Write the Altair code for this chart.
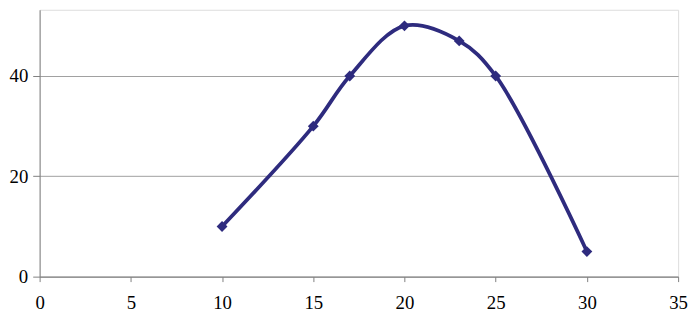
import altair as alt
import pandas as pd

x_vals = [10, 15, 17, 20, 23, 25, 30]
y_vals = [10, 30, 40, 50, 47, 40, 5]
x_ticks = [0, 5, 10, 15, 20, 25, 30, 35]
y_ticks = [0, 20, 40]

df = pd.DataFrame({"x": x_vals, "y": y_vals})

color = "#2E2B7E"
font = "Times New Roman, Liberation Serif, serif"

xenc = alt.X("x:Q", scale=alt.Scale(domain=[0, 35], nice=False, zero=False),
             axis=alt.Axis(values=x_ticks, title=None, grid=False, domain=True,
                           domainColor="#808080", tickColor="#808080", tickSize=5,
                           labelFont=font, labelFontSize=19,
                           labelColor="#000000", labelPadding=12, labelFlush=False))
yenc = alt.Y("y:Q", scale=alt.Scale(domain=[0, 53.2], nice=False),
             axis=alt.Axis(values=y_ticks, title=None, grid=True, gridColor="#A0A0A0",
                           domain=True, domainColor="#808080", tickColor="#808080",
                           tickSize=7, labelFont=font, labelFontSize=19,
                           labelColor="#000000", labelPadding=5))

line = alt.Chart(df).mark_line(interpolate="catmull-rom", color=color, strokeWidth=3.8).encode(
    x=xenc, y=yenc)
pts = alt.Chart(df).mark_point(shape="diamond", filled=True, color=color, size=120, opacity=1).encode(
    x=xenc, y=yenc)

chart = (line + pts).properties(
    width=646, height=270,
    autosize=alt.AutoSizeParams(type="none"),
    padding={"left": 32, "top": 0, "right": 10, "bottom": 37},
).configure_view(stroke="#808080", strokeWidth=1).configure(background="white")

chart.save("out.html", embed_options={"renderer": "svg", "actions": False})
